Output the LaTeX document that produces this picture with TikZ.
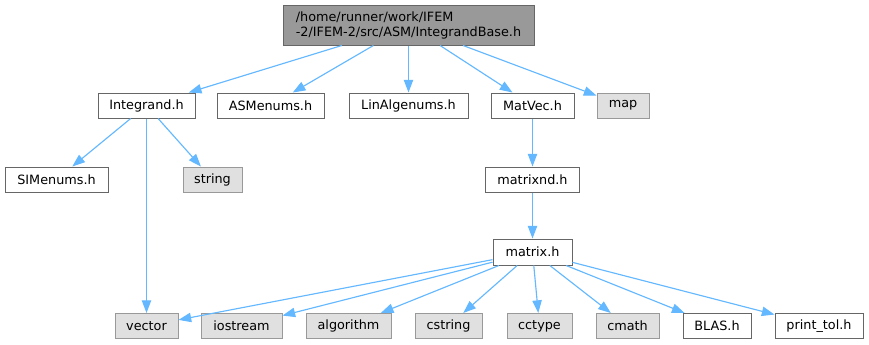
\documentclass[tikz,border=0pt]{standalone}
\usepackage{fontspec}
\setmainfont{DejaVu Sans}
\usetikzlibrary{arrows.meta}
\definecolor{edgec}{HTML}{63B8FF}
\definecolor{topfill}{HTML}{999999}
\definecolor{topdraw}{HTML}{666666}
\definecolor{extfill}{HTML}{E0E0E0}
\definecolor{extdraw}{HTML}{999999}
\begin{document}
\begin{tikzpicture}[x=0.75pt,y=-0.75pt,
 base/.style={draw, line width=0.75pt, inner sep=0pt, minimum height=25*0.75pt, font=\fontsize{9.6}{11.25}\selectfont, text=black},
 inbox/.style={base, draw=topdraw, fill=white},
 extbox/.style={base, draw=extdraw, fill=extfill},
 topbox/.style={base, draw=topdraw, fill=topfill, minimum height=40*0.75pt, align=left},
 w/.style={minimum width=#1*0.75pt},
 edge/.style={draw=edgec, line width=0.85pt, -{Triangle[length=9.5pt,width=7pt]}}
]
\fill[white] (0,0) rectangle (869,344);
\useasboundingbox (0,0) rectangle (869,344);

\node[topbox, w=251] (top) at (408.5,25) {/home/runner/work/IFEM\\-2/IFEM-2/src/ASM/IntegrandBase.h};

\node[inbox, w=97]  (integrand) at (146.5,105.5) {Integrand.h};
\node[inbox, w=107] (asmenums)  at (270.5,105.5) {ASMenums.h};
\node[inbox, w=119] (linalg)    at (408.5,105.5) {LinAlgenums.h};
\node[inbox, w=83]  (matvec)    at (532.5,105.5) {MatVec.h};
\node[extbox, w=52] (map)       at (623,105.5) {map};

\node[inbox, w=103] (simenums)  at (56.5,179.5) {SIMenums.h};
\node[extbox, w=59] (string)    at (212.5,179.5) {string};
\node[inbox, w=94]  (matrixnd)  at (532.5,179.5) {matrixnd.h};

\node[inbox, w=79, minimum height=26*0.75pt] (matrix) at (532.5,252) {matrix.h};

\begin{scope}[every node/.append style={minimum height=26*0.75pt}]
\node[extbox, w=63] (vector)    at (146.5,326) {vector};
\node[extbox, w=81] (iostream)  at (241.5,326) {iostream};
\node[extbox, w=85] (algorithm) at (348.5,326) {algorithm};
\node[extbox, w=67] (cstring)   at (448.5,326) {cstring};
\node[extbox, w=65] (cctype)    at (539.5,326) {cctype};
\node[extbox, w=63] (cmath)     at (627.5,326) {cmath};
\node[inbox, w=68]  (blas)      at (717,326) {BLAS.h};
\node[inbox, w=88]  (printtol)  at (819,326) {print\_tol.h};
\end{scope}

\draw[edge] (top) -- (integrand);
\draw[edge] (top) -- (asmenums);
\draw[edge] (top) -- (linalg);
\draw[edge] (top) -- (matvec);
\draw[edge] (top) -- (map);

\draw[edge] (integrand) -- (simenums);
\draw[edge] (integrand) -- (vector);
\draw[edge] (integrand) -- (string);

\draw[edge] (matvec) -- (matrixnd);
\draw[edge] (matrixnd) -- (matrix);

\draw[edge] (matrix) -- (vector);
\draw[edge] (matrix) -- (iostream);
\draw[edge] (matrix) -- (algorithm);
\draw[edge] (matrix) -- (cstring);
\draw[edge] (matrix) -- (cctype);
\draw[edge] (matrix) -- (cmath);
\draw[edge] (matrix) -- (blas);
\draw[edge] (matrix) -- (printtol);
\end{tikzpicture}
\end{document}
